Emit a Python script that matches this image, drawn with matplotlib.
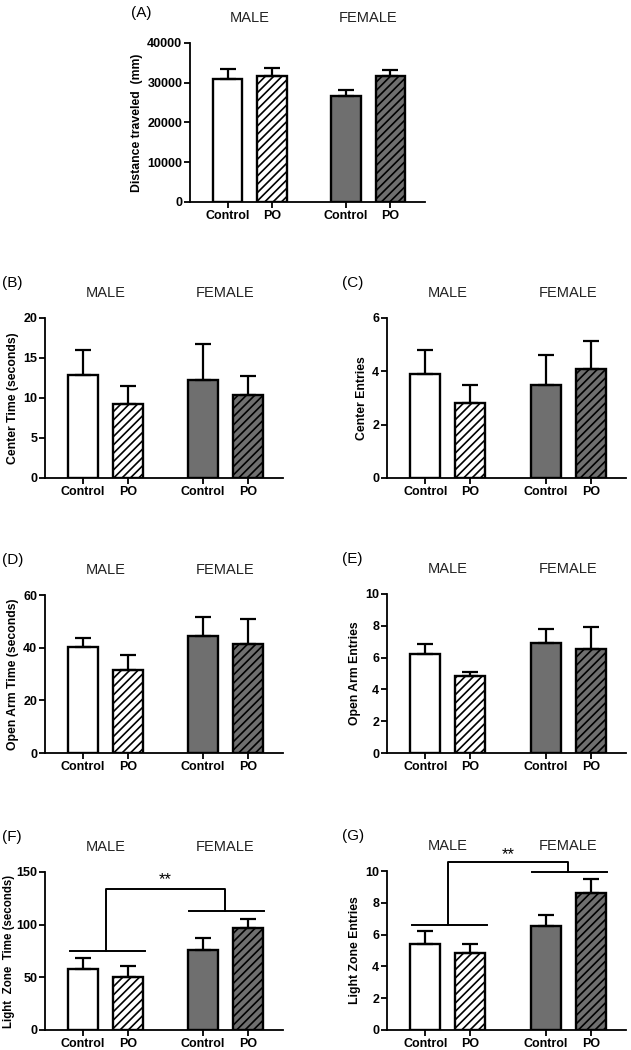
import numpy as np
import matplotlib
matplotlib.use("Agg")
import matplotlib.pyplot as plt

plt.rcParams['font.family'] = ['Liberation Sans', 'DejaVu Sans']
plt.rcParams['hatch.linewidth'] = 1.2
plt.rcParams['hatch.color'] = 'black'

# ---- data ----
groups = ["MALE", "FEMALE"]
conditions = ["Control", "PO", "Control", "PO"]

distance_mean = [31000, 31800, 26700, 31600]
distance_err = [2450, 1850, 1550, 1600]

center_time_mean = [12.9, 9.2, 12.3, 10.4]
center_time_err = [3.1, 2.3, 4.4, 2.4]

center_entries_mean = [3.9, 2.81, 3.5, 4.09]
center_entries_err = [0.91, 0.66, 1.1, 1.04]

open_time_mean = [40.1, 31.5, 44.4, 41.5]
open_time_err = [3.4, 5.7, 7.3, 9.2]

open_entries_mean = [6.2, 4.87, 6.89, 6.57]
open_entries_err = [0.67, 0.23, 0.9, 1.33]

light_time_mean = [57.8, 50.5, 76.4, 97.3]
light_time_err = [10.7, 10.5, 11.1, 8.2]

light_entries_mean = [5.41, 4.82, 6.54, 8.6]
light_entries_err = [0.82, 0.61, 0.67, 0.88]

# significance brackets: (male line, female line, top, star height)
light_time_bracket = [75.2, 113, 134.2, 142.5]
light_entries_bracket = [6.62, 9.94, 10.59, 11.05]

W, H = 631, 1050
fig = plt.figure(figsize=(W / 100, H / 100), dpi=100)

xpos = np.array([0, 1.5, 4, 5.5])
fills = ['white', 'white', '#6f6f6f', '#6f6f6f']
hatches = [None, '////', None, '////']


def make_axes(left, right, top, bottom):
    return fig.add_axes([left / W, 1 - bottom / H, (right - left) / W, (bottom - top) / H])


def panel(ax, means, errs, ymax, ystep, ylabel, letter, letter_x, letter_up=35,
          ylabel_size=8.8, ylabel_pad=3):
    for i in range(4):
        ax.bar(xpos[i], means[i], width=1.0, color=fills[i], edgecolor='black',
               linewidth=1.7, hatch=hatches[i], zorder=2)
    ax.errorbar(xpos, means, yerr=[np.zeros(4), errs], fmt='none', ecolor='black',
                elinewidth=1.6, capsize=6, capthick=1.6, zorder=3)
    ax.set_xlim(-1.27, 6.67)
    ax.set_ylim(0, ymax)
    ax.set_yticks(np.arange(0, ymax + ystep / 2, ystep))
    ax.set_xticks(xpos)
    ax.set_xticklabels(conditions, fontweight='bold', fontsize=9)
    for lab in ax.get_yticklabels():
        lab.set_fontweight('bold')
        lab.set_fontsize(9)
    ax.tick_params(axis='both', direction='out', length=4, width=1.3, pad=1.5)
    ax.spines['top'].set_visible(False)
    ax.spines['right'].set_visible(False)
    ax.spines['left'].set_linewidth(1.3)
    ax.spines['bottom'].set_linewidth(1.3)
    ax.set_ylabel(ylabel, fontweight='bold', fontsize=ylabel_size, labelpad=ylabel_pad)
    for g, name in enumerate(groups):
        cx = (xpos[2 * g] + xpos[2 * g + 1]) / 2
        ax.text(cx, 1 + 18 / ax.bbox.height, name, transform=ax.get_xaxis_transform(),
                ha='center', va='bottom', fontsize=10.5, color='#222222')
    top_px = (1 - ax.get_position().y1) * H
    fig.text(letter_x / W, 1 - (top_px - letter_up) / H, letter, fontsize=11,
             ha='left', va='center')


def bracket(ax, b):
    male_c = (xpos[0] + xpos[1]) / 2
    fem_c = (xpos[2] + xpos[3]) / 2
    kw = dict(color='black', linewidth=1.4, clip_on=False, zorder=4)
    ax.plot([xpos[0] - 0.45, xpos[1] + 0.55], [b[0], b[0]], **kw)
    ax.plot([xpos[2] - 0.45, xpos[3] + 0.55], [b[1], b[1]], **kw)
    ax.plot([male_c, male_c, fem_c, fem_c], [b[0], b[2], b[2], b[1]], **kw)
    ax.text((male_c + fem_c) / 2, b[3], '**', ha='center', va='center',
            fontsize=12, clip_on=False)


axA = make_axes(190, 425, 43, 202)
panel(axA, distance_mean, distance_err, 40000, 10000, 'Distance traveled  (mm)', '(A)', 131,
      letter_up=30)

axB = make_axes(45, 283, 318, 478)
panel(axB, center_time_mean, center_time_err, 20, 5, 'Center Time (seconds)', '(B)', 2)

axC = make_axes(387, 626, 318, 478)
panel(axC, center_entries_mean, center_entries_err, 6, 2, 'Center Entries', '(C)', 342)

axD = make_axes(45, 283, 595, 753)
panel(axD, open_time_mean, open_time_err, 60, 20, 'Open Arm Time (seconds)', '(D)', 2)

axE = make_axes(387, 626, 594, 753)
panel(axE, open_entries_mean, open_entries_err, 10, 2, 'Open Arm Entries', '(E)', 342)

axF = make_axes(45, 283, 872, 1030)
panel(axF, light_time_mean, light_time_err, 150, 50, 'Light  Zone  Time (seconds)', '(F)', 2,
      ylabel_size=8.3, ylabel_pad=1)
bracket(axF, light_time_bracket)

axG = make_axes(387, 626, 871, 1030)
panel(axG, light_entries_mean, light_entries_err, 10, 2, 'Light Zone Entries', '(G)', 342)
bracket(axG, light_entries_bracket)

fig.savefig("out.png", dpi=100)
